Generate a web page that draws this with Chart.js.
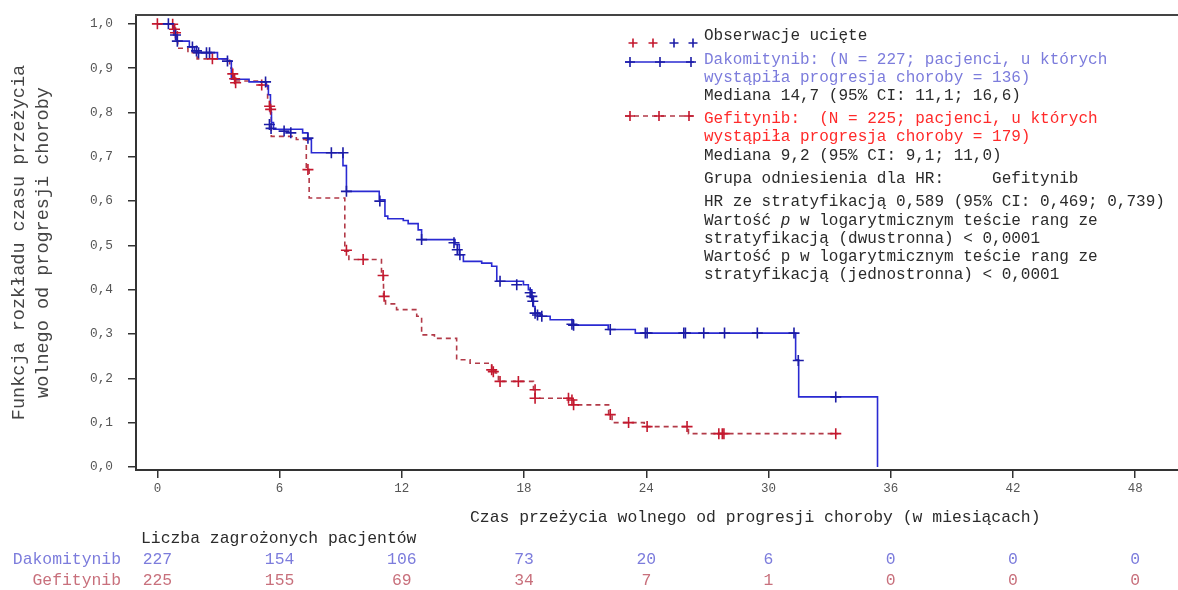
<!DOCTYPE html>
<html>
<head>
<meta charset="utf-8">
<script src="https://cdn.jsdelivr.net/npm/chart.js@4.4.1/dist/chart.umd.min.js"></script>
<style>
  html, body { margin: 0; padding: 0; background: #fff; }
  #wrap { width: 1178px; height: 590px; }
</style>
</head>
<body>
<div id="wrap"><canvas id="km" width="1178" height="590"></canvas></div>
<script>
// 時間（月）と生存率 - Dakomitynib
const dakoT = [0, 0.8, 0.95, 1.57, 1.82, 1.97, 2.95, 3.44, 3.63, 4.5, 5.35, 5.45, 5.55, 5.6, 5.7, 7.13, 7.38, 7.56,
  9.11, 9.28, 10.89, 11.17, 11.31, 12.07, 12.31, 12.8, 12.97, 14.61, 14.82, 15.02, 15.92, 16.41, 16.66, 17.97,
  18.21, 18.38, 18.46, 18.54, 18.79, 19.28, 20.41, 22.13, 23.46, 31.33, 31.48, 35.35];
const dakoS = [1.0, 0.975, 0.961, 0.948, 0.939, 0.935, 0.921, 0.916, 0.875, 0.869, 0.86, 0.84, 0.80, 0.777, 0.762, 0.754, 0.739, 0.709,
  0.68, 0.622, 0.603, 0.566, 0.560, 0.556, 0.549, 0.535, 0.513, 0.502, 0.479, 0.464, 0.460, 0.453, 0.419, 0.411,
  0.400, 0.385, 0.362, 0.347, 0.340, 0.332, 0.320, 0.310, 0.302, 0.242, 0.158, 0.0];

// Gefitynib
const gefiT = [0, 0.84, 0.98, 1.0, 1.5, 1.95, 3.55, 3.65, 3.75, 5.0, 5.41, 5.5, 5.59, 6.82, 7.31, 7.45, 9.2, 9.4,
  11.0, 11.1, 11.2, 11.74, 12.73, 12.97, 13.6, 14.69, 15.35, 16.41, 16.58, 16.74, 18.46, 18.54, 20.43, 22.15,
  22.32, 23.9, 26.07, 33.4];
const gefiS = [1.0, 0.985, 0.96, 0.945, 0.935, 0.921, 0.90, 0.885, 0.871, 0.862, 0.83, 0.81, 0.746, 0.739, 0.671, 0.607, 0.487, 0.468,
  0.432, 0.385, 0.368, 0.355, 0.340, 0.298, 0.290, 0.242, 0.234, 0.219, 0.212, 0.193, 0.174, 0.155, 0.140, 0.118,
  0.100, 0.091, 0.075, 0.075];

// 打ち切り（+印）
const dakoCensT = [0.54, 0.89, 0.98, 1.72, 1.92, 2.02, 2.41, 2.56, 3.44, 5.31, 5.5, 5.58, 6.22, 6.55, 7.39, 8.54, 9.11, 9.28,
  10.92, 12.97, 14.56, 14.72, 14.85, 16.82, 17.64, 18.3, 18.38, 18.43, 18.54, 18.66, 18.87, 20.35, 20.43, 22.23,
  23.95, 24.04, 25.84, 25.92, 26.82, 27.84, 29.45, 31.25, 31.46, 33.3];
const dakoCensS = [1.0, 0.975, 0.961, 0.948, 0.939, 0.935, 0.935, 0.935, 0.916, 0.869, 0.773, 0.764, 0.758, 0.754, 0.742, 0.709, 0.709, 0.622,
  0.600, 0.513, 0.506, 0.49, 0.479, 0.419, 0.411, 0.393, 0.385, 0.374, 0.347, 0.343, 0.340, 0.322, 0.320, 0.310,
  0.302, 0.302, 0.302, 0.302, 0.302, 0.302, 0.302, 0.302, 0.240, 0.158];
const gefiCensT = [0, 0.75, 0.84, 0.89, 2.7, 3.7, 3.79, 3.84, 5.12, 5.51, 5.56, 7.39, 9.28, 10.1, 11.08, 11.13,
  16.41, 16.49, 16.82, 17.72, 18.54, 18.54, 20.18, 20.35, 20.43, 22.23, 23.13, 24.04, 26.0, 27.56, 27.73, 27.81, 33.3];
const gefiCensS = [1.0, 0.999, 0.988, 0.98, 0.921, 0.887, 0.876, 0.867, 0.862, 0.814, 0.807, 0.671, 0.489, 0.468, 0.432, 0.385,
  0.219, 0.215, 0.193, 0.193, 0.174, 0.155, 0.155, 0.151, 0.140, 0.118, 0.100, 0.091, 0.091, 0.075, 0.075, 0.075, 0.075];

// 軸目盛
const xTicks = [0, 6, 12, 18, 24, 30, 36, 42, 48];
const yTicks = [0, 0.1, 0.2, 0.3, 0.4, 0.5, 0.6, 0.7, 0.8, 0.9, 1.0];

// リスク集団の人数
const riskTimes = [0, 6, 12, 18, 24, 30, 36, 42, 48];
const dakoRisk = [227, 154, 106, 73, 20, 6, 0, 0, 0];
const gefiRisk = [225, 155, 69, 34, 7, 1, 0, 0, 0];

const MONO = "'Liberation Mono', 'Courier New', monospace";
const BLUE = "#2a2ad2";
const BLUE_MARK = "#1c1ca6";
const RED = "#b23a48";
const RED_MARK = "#c4182e";
const BLUE_TXT = "#7c7cdc";
const RED_TXT = "#ff2a2a";
const RED_TBL = "#c8707c";
const DARK = "#2b2b2b";

const toPts = (ts, ss) => ts.map((t, i) => ({ x: t, y: ss[i] }));

// 凡例・注記テキスト
const legendLines = [
  { t: "Obserwacje ucięte", y: 36, c: DARK },
  { t: "Dakomitynib: (N = 227; pacjenci, u których", y: 60, c: BLUE_TXT },
  { t: "wystąpiła progresja choroby = 136)", y: 78, c: BLUE_TXT },
  { t: "Mediana 14,7 (95% CI: 11,1; 16,6)", y: 96, c: DARK },
  { t: "Gefitynib:  (N = 225; pacjenci, u których", y: 119, c: RED_TXT },
  { t: "wystąpiła progresja choroby = 179)", y: 137, c: RED_TXT },
  { t: "Mediana 9,2 (95% CI: 9,1; 11,0)", y: 156, c: DARK },
  { t: "Grupa odniesienia dla HR:     Gefitynib", y: 179, c: DARK },
  { t: "HR ze stratyfikacją 0,589 (95% CI: 0,469; 0,739)", y: 202, c: DARK },
  { t: "Wartość |p| w logarytmicznym teście rang ze", y: 221, c: DARK },
  { t: "stratyfikacją (dwustronna) < 0,0001", y: 239, c: DARK },
  { t: "Wartość p w logarytmicznym teście rang ze", y: 257, c: DARK },
  { t: "stratyfikacją (jednostronna) < 0,0001", y: 275, c: DARK },
];

function drawCross(ctx, x, y, r, color) {
  ctx.save();
  ctx.strokeStyle = color;
  ctx.lineWidth = 1.6;
  ctx.beginPath();
  ctx.moveTo(x - r, y); ctx.lineTo(x + r, y);
  ctx.moveTo(x, y - r); ctx.lineTo(x, y + r);
  ctx.stroke();
  ctx.restore();
}

// 枠線・凡例・リスク表を描くプラグイン
const extras = {
  id: "extras",
  afterDraw(chart) {
    const ctx = chart.ctx;
    const area = chart.chartArea;
    const xs = chart.scales.x;

    // 上枠
    ctx.save();
    ctx.strokeStyle = "#444";
    ctx.lineWidth = 2;
    ctx.beginPath();
    ctx.moveTo(area.left - 1, area.top);
    ctx.lineTo(chart.width, area.top);
    ctx.stroke();
    ctx.restore();

    // 凡例の記号
    drawCross(ctx, 633, 43, 4.5, RED_MARK);
    drawCross(ctx, 653, 43, 4.5, RED_MARK);
    drawCross(ctx, 674, 43, 4.5, BLUE_MARK);
    drawCross(ctx, 693, 43, 4.5, BLUE_MARK);

    ctx.save();
    ctx.lineWidth = 1.6;
    ctx.strokeStyle = BLUE;
    ctx.beginPath(); ctx.moveTo(625, 62); ctx.lineTo(694, 62); ctx.stroke();
    ctx.strokeStyle = RED;
    ctx.setLineDash([5, 4]);
    ctx.beginPath(); ctx.moveTo(625, 116); ctx.lineTo(694, 116); ctx.stroke();
    ctx.restore();
    [630, 660, 691].forEach((x) => drawCross(ctx, x, 62, 5, BLUE_MARK));
    [630, 659, 689].forEach((x) => drawCross(ctx, x, 116, 5, RED_MARK));

    // 凡例テキスト
    ctx.save();
    ctx.textBaseline = "middle";
    ctx.textAlign = "left";
    legendLines.forEach((l) => {
      ctx.fillStyle = l.c;
      const parts = l.t.split("|");
      let x = 704;
      parts.forEach((p, i) => {
        ctx.font = (i === 1 ? "italic " : "") + "16px " + MONO;
        ctx.fillText(p, x, l.y);
        x += ctx.measureText(p).width;
      });
    });
    ctx.restore();

    // x軸タイトル
    ctx.save();
    ctx.font = "16.4px " + MONO;
    ctx.fillStyle = DARK;
    ctx.textBaseline = "middle";
    ctx.textAlign = "left";
    ctx.fillText("Czas przeżycia wolnego od progresji choroby (w miesiącach)", 470, 518);

    // リスク表
    ctx.fillText("Liczba zagrożonych pacjentów", 141, 539);
    ctx.textAlign = "right";
    ctx.fillStyle = BLUE_TXT;
    ctx.fillText("Dakomitynib", 121, 560);
    ctx.fillStyle = RED_TBL;
    ctx.fillText("Gefitynib", 121, 581);
    ctx.textAlign = "center";
    riskTimes.forEach((t, i) => {
      const px = xs.getPixelForValue(t);
      ctx.fillStyle = BLUE_TXT;
      ctx.fillText(String(dakoRisk[i]), px, 560);
      ctx.fillStyle = RED_TBL;
      ctx.fillText(String(gefiRisk[i]), px, 581);
    });
    ctx.restore();
  },
};

new Chart(document.getElementById("km"), {
  type: "scatter",
  data: {
    datasets: [
      {
        label: "Dakomitynib",
        data: toPts(dakoT, dakoS),
        showLine: true,
        stepped: true,
        borderColor: BLUE,
        borderWidth: 1.6,
        pointRadius: 0,
        order: 3,
      },
      {
        label: "Gefitynib",
        data: toPts(gefiT, gefiS),
        showLine: true,
        stepped: true,
        borderColor: RED,
        borderDash: [5, 4],
        borderWidth: 1.6,
        pointRadius: 0,
        order: 4,
      },
      {
        label: "Dakomitynib cenzura",
        data: toPts(dakoCensT, dakoCensS),
        showLine: false,
        pointStyle: "cross",
        pointRadius: 5.5,
        pointBorderWidth: 1.6,
        borderColor: BLUE_MARK,
        order: 1,
      },
      {
        label: "Gefitynib cenzura",
        data: toPts(gefiCensT, gefiCensS),
        showLine: false,
        pointStyle: "cross",
        pointRadius: 5.5,
        pointBorderWidth: 1.6,
        borderColor: RED_MARK,
        order: 2,
      },
    ],
  },
  options: {
    responsive: false,
    devicePixelRatio: 1,
    animation: false,
    layout: { autoPadding: false, padding: { top: 15, right: 0, bottom: 0, left: 0 } },
    plugins: { legend: { display: false }, tooltip: { enabled: false } },
    scales: {
      x: {
        type: "linear",
        min: -1.05,
        max: 50.1,
        afterBuildTicks: (s) => { s.ticks = xTicks.map((v) => ({ value: v })); },
        afterFit: (s) => { s.height = 120; s.paddingLeft = 0; s.paddingRight = 0; },
        grid: { display: true, drawOnChartArea: false, drawTicks: true, tickLength: 8, color: "#333", lineWidth: 1.5 },
        border: { display: true, color: "#333", width: 2 },
        ticks: {
          autoSkip: false,
          maxRotation: 0,
          padding: 3,
          color: "#555",
          font: { family: MONO, size: 12.5 },
          callback: (v) => String(v),
        },
      },
      y: {
        type: "linear",
        min: -0.007,
        max: 1.02,
        afterBuildTicks: (s) => { s.ticks = yTicks.map((v) => ({ value: v })); },
        afterFit: (s) => { s.width = 136; s.paddingTop = 0; s.paddingBottom = 0; },
        grid: { display: true, drawOnChartArea: false, drawTicks: true, tickLength: 8, color: "#333", lineWidth: 1.5 },
        border: { display: true, color: "#333", width: 2 },
        ticks: {
          padding: 15,
          color: "#555",
          font: { family: MONO, size: 12.8 },
          callback: (v) => v.toFixed(1).replace(".", ","),
        },
        title: {
          display: true,
          text: ["Funkcja rozkładu czasu przeżycia", "wolnego od progresji choroby"],
          color: "#444",
          font: { family: MONO, size: 18.5, lineHeight: 1.25 },
          padding: { top: 8, bottom: 0 },
        },
      },
    },
  },
  plugins: [extras],
});
</script>
</body>
</html>
